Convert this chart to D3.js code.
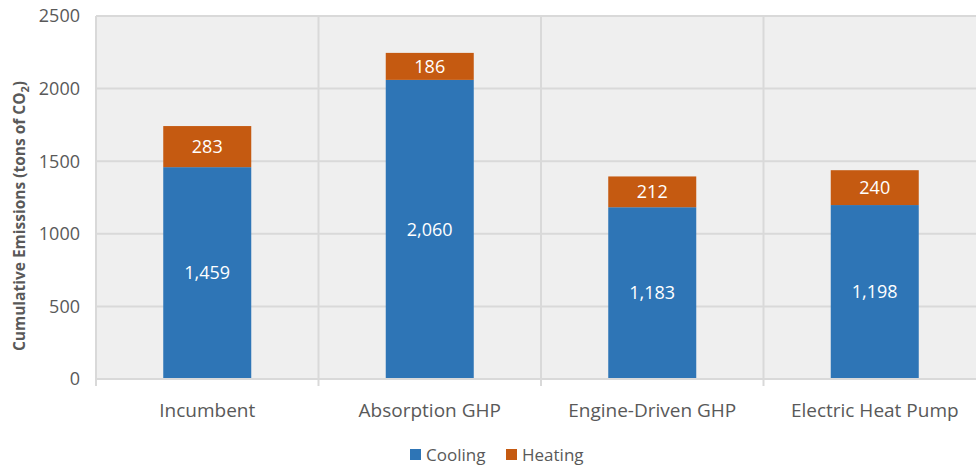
<!DOCTYPE html>
<html lang="en">
<head>
<meta charset="UTF-8">
<script src="https://d3js.org/d3.v7.min.js"></script>
<style>
  html, body { margin: 0; padding: 0; background: #fff; }
  svg text { font-family: 'Open Sans', sans-serif; }
</style>
</head>
<body>
<div id="chart"></div>
<script>
// data
var categories = ['Incumbent', 'Absorption GHP', 'Engine-Driven GHP', 'Electric Heat Pump'];
var cooling = [1459, 2060, 1183, 1198];
var heating = [283, 186, 212, 240];
var seriesNames = ['Cooling', 'Heating'];
var seriesColors = ['#2e75b6', '#c55a11'];
var yTicks = [0, 500, 1000, 1500, 2000, 2500];

var width = 976, height = 468;
var plotLeft = 96, plotRight = 986, plotTop = 16, plotBottom = 379;

var svg = d3.select('#chart').append('svg')
  .attr('width', width).attr('height', height);

var x = d3.scaleBand().domain(categories).range([plotLeft, plotRight]).paddingInner(0).paddingOuter(0);
var y = d3.scaleLinear().domain([0, 2500]).range([plotBottom, plotTop]);

// plot background
svg.append('rect')
  .attr('x', plotLeft).attr('y', plotTop)
  .attr('width', plotRight - plotLeft).attr('height', plotBottom - plotTop)
  .attr('fill', '#efefef');

// horizontal gridlines
svg.selectAll('.hgrid').data(yTicks).enter().append('line')
  .attr('x1', plotLeft).attr('x2', plotRight)
  .attr('y1', function(d) { return y(d); }).attr('y2', function(d) { return y(d); })
  .attr('stroke', '#d9d9d9').attr('stroke-width', 2);

// vertical separators between categories
var seps = categories.map(function(c) { return x(c); }).concat([plotRight]);
svg.selectAll('.vgrid').data(seps).enter().append('line')
  .attr('x1', function(d) { return d; }).attr('x2', function(d) { return d; })
  .attr('y1', plotTop).attr('y2', plotBottom + 7)
  .attr('stroke', '#d9d9d9').attr('stroke-width', 2);

// y tick labels
svg.selectAll('.ytick').data(yTicks).enter().append('text')
  .attr('x', 80).attr('y', function(d) { return y(d); })
  .attr('dy', '0.35em')
  .attr('text-anchor', 'end')
  .style('font-size', '18px').style('fill', '#595959')
  .text(function(d) { return d; });

// y axis title
var yt = svg.append('text')
  .attr('transform', 'translate(25,216) rotate(-90)')
  .attr('text-anchor', 'middle')
  .style('font-size', '15.5px').style('font-weight', 'bold').style('fill', '#595959');
yt.append('tspan').text('Cumulative Emissions (tons of CO');
yt.append('tspan').attr('dy', 4).style('font-size', '11px').text('2');
yt.append('tspan').attr('dy', -4).text(')');

// stacked bars
var barW = 88;
var segs = d3.merge(categories.map(function(c, i) {
  return [
    { cat: c, y0: 0, y1: cooling[i], v: cooling[i], s: 0 },
    { cat: c, y0: cooling[i], y1: cooling[i] + heating[i], v: heating[i], s: 1 }
  ];
}));

svg.selectAll('.seg').data(segs).enter().append('rect')
  .attr('x', function(d) { return x(d.cat) + x.bandwidth() / 2 - barW / 2; })
  .attr('y', function(d) { return y(d.y1); })
  .attr('width', barW)
  .attr('height', function(d) { return y(d.y0) - y(d.y1); })
  .attr('fill', function(d) { return seriesColors[d.s]; });

svg.selectAll('.seglabel').data(segs).enter().append('text')
  .attr('x', function(d) { return x(d.cat) + x.bandwidth() / 2; })
  .attr('y', function(d) { return y((d.y0 + d.y1) / 2); })
  .attr('dy', '0.35em')
  .attr('text-anchor', 'middle')
  .style('font-size', '18px').style('fill', '#fff')
  .text(function(d) { return d3.format(',')(d.v); });

// x axis line
svg.append('line')
  .attr('x1', plotLeft).attr('x2', plotRight)
  .attr('y1', plotBottom).attr('y2', plotBottom)
  .attr('stroke', '#d9d9d9').attr('stroke-width', 2);

// category labels
svg.selectAll('.xlabel').data(categories).enter().append('text')
  .attr('x', function(d) { return x(d) + x.bandwidth() / 2; })
  .attr('y', 410)
  .attr('dy', '0.35em')
  .attr('text-anchor', 'middle')
  .style('font-size', '19px').style('fill', '#595959')
  .text(function(d) { return d; });

// legend
var legend = svg.selectAll('.legend').data(seriesNames).enter().append('g')
  .attr('transform', function(d, i) { return 'translate(' + (410 + i * 96) + ',455)'; });
legend.append('rect')
  .attr('x', 0).attr('y', -6).attr('width', 11).attr('height', 11)
  .attr('fill', function(d, i) { return seriesColors[i]; });
legend.append('text')
  .attr('x', 16).attr('y', 0).attr('dy', '0.35em')
  .style('font-size', '17px').style('fill', '#595959')
  .text(function(d) { return d; });
</script>
</body>
</html>
